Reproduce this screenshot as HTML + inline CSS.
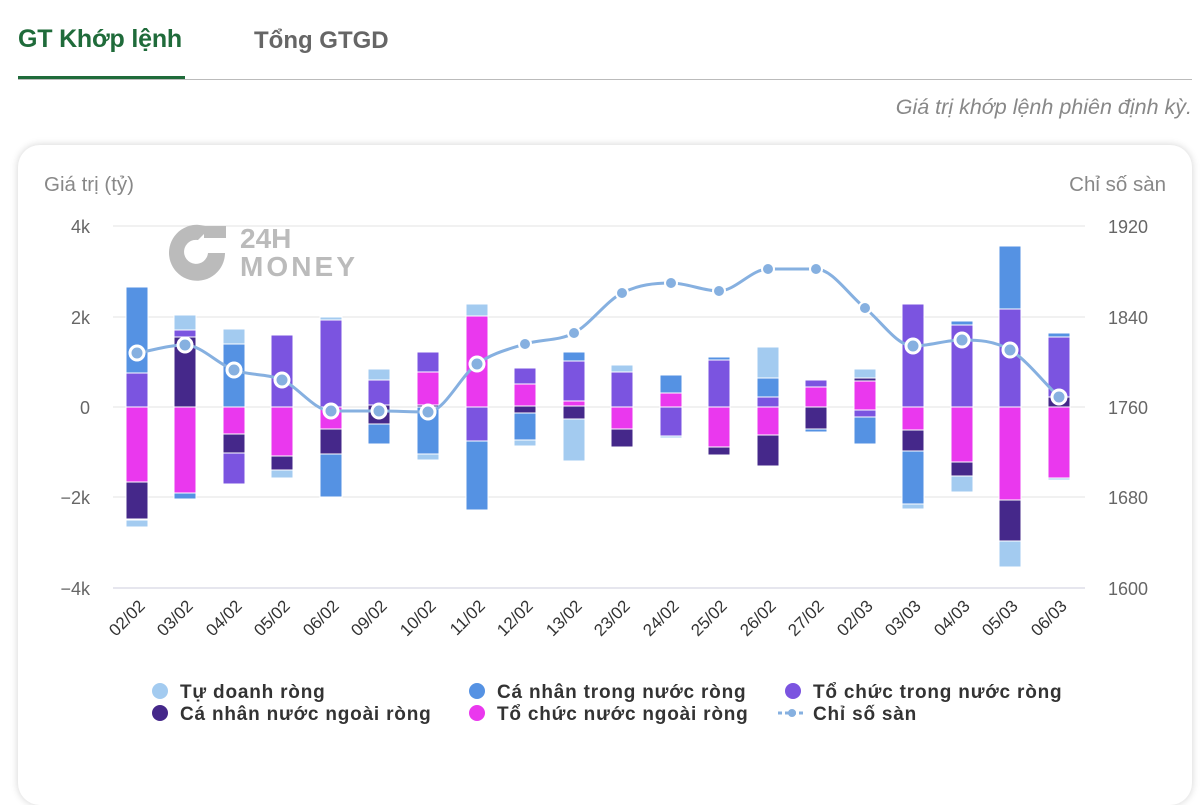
<!DOCTYPE html>
<html><head><meta charset="utf-8"><style>
body{margin:0;width:1200px;height:781px;background:#fff;font-family:"Liberation Sans",sans-serif;overflow:hidden;position:relative}
.t{position:absolute;white-space:nowrap}
</style></head><body>
<div class="t" style="left:18px;top:25px;font-size:25px;font-weight:bold;color:#1f6b3a;letter-spacing:-0.2px">GT Khớp lệnh</div>
<div class="t" style="left:254px;top:27px;font-size:24px;font-weight:bold;color:#666">Tổng GTGD</div>
<div style="position:absolute;left:18px;top:79px;width:1174px;height:1px;background:#bbb"></div>
<div style="position:absolute;left:18px;top:76px;width:167px;height:3px;background:#1f6b3a"></div>
<div class="t" style="right:8px;top:95px;font-size:21.5px;font-style:italic;color:#888">Giá trị khớp lệnh phiên định kỳ.</div>
<div style="position:absolute;left:18px;top:145px;width:1174px;height:660px;border-radius:22px;box-shadow:0 0 8px rgba(0,0,0,0.18);background:#fff"></div>
<svg style="position:absolute;left:0;top:0" width="1200" height="781" font-family="Liberation Sans, sans-serif">
<text x="44" y="191" font-size="20.5" fill="#888">Giá trị (tỷ)</text>
<text x="1166" y="191" font-size="20.5" fill="#888" text-anchor="end">Chỉ số sàn</text>
<g stroke="#e3e3e3" stroke-width="1">
<line x1="113" y1="226" x2="1085" y2="226"/><line x1="113" y1="317" x2="1085" y2="317"/><line x1="113" y1="407" x2="1085" y2="407"/><line x1="113" y1="497" x2="1085" y2="497"/><line x1="113" y1="588" x2="1085" y2="588" stroke="#ccd"/>
</g>
<g font-size="18" fill="#666" text-anchor="end">
<text x="90" y="233">4k</text><text x="90" y="324">2k</text><text x="90" y="414">0</text><text x="90" y="504">−2k</text><text x="90" y="595">−4k</text>
</g>
<g font-size="18" fill="#666">
<text x="1108" y="233">1920</text><text x="1108" y="324">1840</text><text x="1108" y="414">1760</text><text x="1108" y="504">1680</text><text x="1108" y="595">1600</text>
</g>
<g fill="#bbb"><path d="M210 228 A28 28 0 1 0 225 253 L208 253 A12 12 0 1 1 198 240 Z"/><rect x="204" y="226" width="22" height="12"/>
<text x="240" y="248" font-size="28" font-weight="bold" fill="#bbb">24H</text><text x="240" y="276" font-size="28" font-weight="bold" fill="#bbb" textLength="115">MONEY</text></g>
<g id="bars" stroke="#fff" stroke-width="1"></g>
<path id="ln" fill="none" stroke="#86b0e0" stroke-width="3"/>
<g id="pts"></g>
<g id="xl" font-size="17" fill="#333"></g>
<g font-size="19" font-weight="bold" fill="#333" letter-spacing="0.8">
<circle cx="160" cy="691" r="8" fill="#a3cbf0"/><text x="180" y="698">Tự doanh ròng</text>
<circle cx="160" cy="713" r="8" fill="#45288a"/><text x="180" y="720">Cá nhân nước ngoài ròng</text>
<circle cx="477" cy="691" r="8" fill="#5592e3"/><text x="497" y="698">Cá nhân trong nước ròng</text>
<circle cx="477" cy="713" r="8" fill="#ea38ee"/><text x="497" y="720">Tổ chức nước ngoài ròng</text>
<circle cx="793" cy="691" r="8" fill="#7b54e0"/><text x="813" y="698">Tổ chức trong nước ròng</text>
<line x1="778" y1="713" x2="806" y2="713" stroke="#86b0e0" stroke-width="3" stroke-dasharray="4 3"/><circle cx="792" cy="713" r="4" fill="#86b0e0"/><text x="813" y="720">Chỉ số sàn</text>
</g>
</svg>
<script>
var C={L:"#a3cbf0",B:"#5592e3",P:"#7b54e0",D:"#45288a",M:"#ea38ee"};
var X=[137,185,234,282,331,379,428,477,525,574,622,671,719,768,816,865,913,962,1010,1059];
var S=[
"B287-373 P373-407 M407-482 D482-519 L520-527",
"L315-330 P330-337 D337-407 M407-493 B493-499",
"L329-344 B344-407 M407-434 D434-453 P453-484",
"P335-407 M407-456 D456-470 L470-478",
"L317-320 P320-407 M407-429 D429-454 B454-497",
"L369-380 P380-405 D405-424 B424-444",
"P352-372 M372-405 D405-407 B407-454 L454-460",
"L304-316 M316-407 P407-441 B441-510",
"P368-384 M384-406 D406-413 B413-440 L440-446",
"B352-361 P361-401 M401-406 D406-419 L419-461",
"L365-372 P372-407 M407-429 D429-447",
"B375-393 M393-407 P407-436 L436-438",
"B357-360 P360-407 M407-447 D447-455",
"L347-378 B378-397 P397-407 M407-435 D435-466",
"P380-387 M387-407 D407-429 B429-432",
"L369-378 D378-381 M381-410 P410-417 B417-444",
"P304-407 M407-430 D430-451 B451-504 L504-509",
"B321-325 P325-407 M407-462 D462-476 L476-492",
"B246-309 P309-407 M407-500 D500-541 L541-567",
"B333-337 P337-397 D397-407 M407-478 L478-480"];
var g=document.getElementById("bars"),h="";
S.forEach(function(s,i){s.split(" ").forEach(function(p){var c=p[0],a=p.slice(1).split("-");h+='<rect x="'+(X[i]-11)+'" y="'+a[0]+'" width="22" height="'+(a[1]-a[0])+'" fill="'+C[c]+'"/>';});});
g.innerHTML=h;
var Y=[353,345,370,380,411,411,412,364,344,333,293,283,291,269,269,308,346,340,350,397];
var n=Y.length,m=[];
for(var i=0;i<n;i++){var s0=i>0?(Y[i]-Y[i-1]):null,s1=i<n-1?(Y[i+1]-Y[i]):null;
if(s0===null)m[i]=s1;else if(s1===null)m[i]=s0;else if(s0*s1<=0)m[i]=0;else m[i]=(s0+s1)/2;}
var d="M"+X[0]+" "+Y[0];
for(var i=0;i<n-1;i++){var dx=(X[i+1]-X[i])/3;
d+=" C"+(X[i]+dx)+" "+(Y[i]+m[i]/3)+" "+(X[i+1]-dx)+" "+(Y[i+1]-m[i+1]/3)+" "+X[i+1]+" "+Y[i+1];}
document.getElementById("ln").setAttribute("d",d);
var ph="",xh="",lab=["02/02","03/02","04/02","05/02","06/02","09/02","10/02","11/02","12/02","13/02","23/02","24/02","25/02","26/02","27/02","02/03","03/03","04/03","05/03","06/03"];
X.forEach(function(x,i){var ring=(i<8||i>15);
ph+=ring?'<circle cx="'+x+'" cy="'+Y[i]+'" r="7" fill="#86b0e0" stroke="#fff" stroke-width="3"/>':'<circle cx="'+x+'" cy="'+Y[i]+'" r="6" fill="#86b0e0" stroke="#fff" stroke-width="2"/>';
xh+='<text transform="translate('+(x+9)+',607) rotate(-45)" text-anchor="end">'+lab[i]+'</text>';});
document.getElementById("pts").innerHTML=ph;document.getElementById("xl").innerHTML=xh;
</script>
</body></html>
